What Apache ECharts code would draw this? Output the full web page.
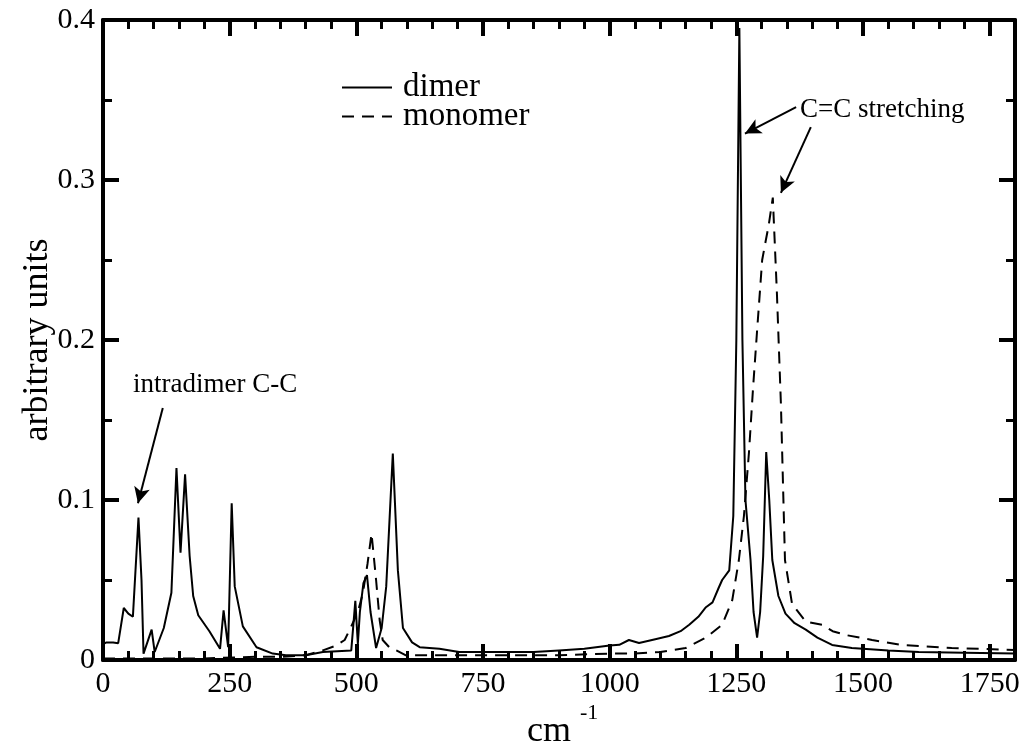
<!DOCTYPE html>
<html>
<head>
<meta charset="utf-8">
<script src="https://cdn.jsdelivr.net/npm/echarts@6/dist/echarts.min.js"></script>
<style>
  html, body { margin: 0; padding: 0; background: #fff; }
  #chart { width: 1029px; height: 746px; }
</style>
</head>
<body>
<div id="chart"></div>
<script>
  // spectrum (x in cm^-1, y in arbitrary units)
  const dimerX = [0, 7, 20, 30, 41, 50, 59, 70, 76, 80, 96, 102, 120, 135, 145, 153, 162, 171, 178, 188,
    210, 231, 238, 247, 254, 260, 276, 303, 335, 361, 400, 434, 490, 498, 503, 507, 514, 521, 528, 539,
    550, 559, 572, 582, 592, 610, 625, 664, 703, 750, 800, 850, 900, 950, 1000, 1019, 1038, 1058, 1090,
    1117, 1140, 1157, 1175, 1190, 1203, 1215, 1222, 1236, 1244, 1250, 1256, 1262, 1268, 1278, 1284, 1291,
    1297, 1303, 1309, 1315, 1321, 1333, 1347, 1365, 1387, 1410, 1439, 1478, 1550, 1610, 1700, 1800];
  const dimerY = [0.010, 0.011, 0.011, 0.0105, 0.0325, 0.029, 0.027, 0.089, 0.05, 0.004, 0.019, 0.005,
    0.02, 0.042, 0.12, 0.067, 0.116, 0.065, 0.04, 0.028, 0.018, 0.007, 0.031, 0.008, 0.098, 0.046, 0.021,
    0.008, 0.004, 0.003, 0.003, 0.005, 0.006, 0.037, 0.01, 0.03, 0.048, 0.053, 0.03, 0.0075, 0.02, 0.046,
    0.129, 0.056, 0.02, 0.011, 0.008, 0.007, 0.005, 0.005, 0.005, 0.005, 0.006, 0.007, 0.009, 0.0095,
    0.0125, 0.0106, 0.013, 0.015, 0.018, 0.022, 0.027, 0.033, 0.036, 0.045, 0.05, 0.056, 0.09, 0.2, 0.395,
    0.2, 0.1, 0.0625, 0.03, 0.014, 0.03, 0.065, 0.13, 0.1, 0.0625, 0.04, 0.029, 0.023, 0.019, 0.014,
    0.0094, 0.0075, 0.006, 0.005, 0.0045, 0.004];

  const monomerX = [0, 100, 200, 300, 350, 400, 434, 460, 477, 490, 503, 513, 522, 530, 539, 546, 552,
    565, 579, 597, 650, 700, 800, 900, 1000, 1050, 1100, 1150, 1190, 1222, 1242, 1255, 1265, 1275, 1283,
    1291, 1301, 1308, 1314, 1322, 1330, 1338, 1346, 1360, 1387, 1419, 1440, 1466, 1518, 1577, 1675, 1800];
  const monomerY = [0.001, 0.001, 0.001, 0.002, 0.002, 0.003, 0.006, 0.009, 0.0125, 0.021, 0.03, 0.042,
    0.06, 0.079, 0.05, 0.025, 0.0125, 0.008, 0.006, 0.003, 0.003, 0.003, 0.003, 0.003, 0.004, 0.004,
    0.005, 0.0075, 0.014, 0.022, 0.0375, 0.0625, 0.09, 0.13, 0.17, 0.206, 0.25, 0.262, 0.272, 0.289,
    0.23, 0.16, 0.0625, 0.035, 0.024, 0.022, 0.018, 0.0156, 0.0125, 0.0094, 0.0075, 0.0063];

  const xTicks = [0, 250, 500, 750, 1000, 1250, 1500, 1750];
  const yTicks = [0, 0.1, 0.2, 0.3, 0.4];

  // annotation arrows, [from, to] in data coordinates
  const arrows = [
    [[118, 0.1575], [69, 0.098]],
    [[1368, 0.3456], [1267, 0.329]],
    [[1397, 0.333], [1338, 0.292]]
  ];

  const FONT = '"Liberation Serif", "DejaVu Serif", serif';
  const ink = '#000';

  const pairs = (xs, ys) => xs.map((x, i) => [x, ys[i]]);

  const majorX = (pos, labels) => ({
    type: 'value', position: pos, min: 0, max: 1800, interval: 250,
    axisLine: { show: true, onZero: false, lineStyle: { color: ink, width: 4 } },
    axisTick: { show: true, inside: true, length: 16, lineStyle: { color: ink, width: 4 } },
    axisLabel: {
      show: labels, showMaxLabel: false, margin: 9, color: ink, fontSize: 30, fontFamily: FONT,
      formatter: v => (xTicks.includes(v) ? String(v) : '')
    },
    splitLine: { show: false }
  });
  const minorX = pos => ({
    type: 'value', position: pos, min: 0, max: 1800, interval: 50,
    axisLine: { show: false, onZero: false },
    axisTick: { show: true, inside: true, length: 9, lineStyle: { color: ink, width: 3 } },
    axisLabel: { show: false },
    splitLine: { show: false }
  });
  const yAx = (pos, labels) => ({
    type: 'value', position: pos, min: 0, max: 0.4, interval: 0.1,
    axisLine: { show: true, onZero: false, lineStyle: { color: ink, width: 4 } },
    axisTick: { show: true, inside: true, length: 16, lineStyle: { color: ink, width: 4 } },
    minorTick: { show: true, splitNumber: 2, length: 9, lineStyle: { color: ink, width: 3 } },
    axisLabel: {
      show: labels, margin: 8, color: ink, fontSize: 30, fontFamily: FONT,
      formatter: v => (yTicks.includes(+v.toFixed(2)) ? String(+v.toFixed(2)) : '')
    },
    splitLine: { show: false }
  });

  const chart = echarts.init(document.getElementById('chart'), null, { renderer: 'canvas' });

  const yLeft = yAx('left', true);
  yLeft.name = 'arbitrary units';
  yLeft.nameLocation = 'middle';
  yLeft.nameGap = 47;
  yLeft.nameMoveOverlap = false;
  yLeft.nameTextStyle = { color: ink, fontSize: 36, fontFamily: FONT };

  chart.setOption({
    animation: false,
    backgroundColor: '#fff',
    grid: { left: 103, right: 14, top: 20, bottom: 86 },
    legend: {
      orient: 'vertical', left: 336, top: 66, itemGap: -4,
      itemWidth: 50, itemHeight: 14,
      itemStyle: { opacity: 0 },
      textStyle: { color: ink, fontSize: 33, fontFamily: FONT, padding: [0, 0, 0, 6] },
      data: ['dimer', 'monomer']
    },
    xAxis: [majorX('bottom', true), minorX('bottom'), majorX('top', false), minorX('top')],
    yAxis: [yLeft, yAx('right', false)],
    series: [
      {
        name: 'dimer', type: 'line', xAxisIndex: 0, yAxisIndex: 0,
        data: pairs(dimerX, dimerY), showSymbol: false, symbol: 'none',
        lineStyle: { color: ink, width: 2 }, itemStyle: { color: ink },
        markLine: {
          silent: true, symbol: ['none', 'arrow'], symbolSize: [12, 16],
          label: { show: false },
          lineStyle: { color: ink, width: 2, type: 'solid' },
          data: arrows.map(a => [{ coord: a[0] }, { coord: a[1] }])
        }
      },
      {
        name: 'monomer', type: 'line', xAxisIndex: 0, yAxisIndex: 0,
        data: pairs(monomerX, monomerY), showSymbol: false, symbol: 'none',
        lineStyle: { color: ink, width: 2, type: [12, 8] }, itemStyle: { color: ink }
      }
    ],
    graphic: [
      { type: 'text', left: 133, top: 371, style: { text: 'intradimer C-C', fill: ink, font: '27px ' + FONT } },
      { type: 'text', left: 800, top: 96, style: { text: 'C=C stretching', fill: ink, font: '27px ' + FONT } },
      { type: 'text', left: 527, top: 714, style: { text: 'cm', fill: ink, font: '36px ' + FONT } },
      { type: 'text', left: 580, top: 702, style: { text: '-1', fill: ink, font: '22px ' + FONT } }
    ]
  });
</script>
</body>
</html>
